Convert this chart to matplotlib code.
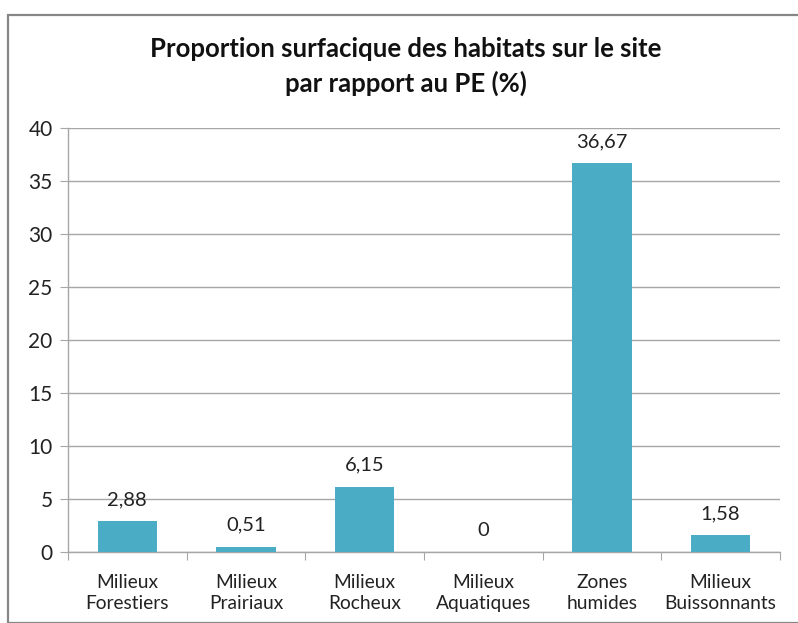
import matplotlib
matplotlib.use("Agg")
import matplotlib.pyplot as plt
from matplotlib.patches import Rectangle

categories = ["Milieux\nForestiers", "Milieux\nPrairiaux", "Milieux\nRocheux",
              "Milieux\nAquatiques", "Zones\nhumides", "Milieux\nBuissonnants"]
values = [2.88, 0.51, 6.15, 0, 36.67, 1.58]
value_labels = ["2,88", "0,51", "6,15", "0", "36,67", "1,58"]
yticks = [0, 5, 10, 15, 20, 25, 30, 35, 40]
title = "Proportion surfacique des habitats sur le site\npar rapport au PE (%)"

plt.rcParams["font.family"] = ["Lato", "DejaVu Sans"]

W, H = 798, 623
fig = plt.figure(figsize=(W / 100, H / 100), dpi=100)

# outer chart frame
fig.patches.append(Rectangle((7.5 / W, 0), 1.0, 1 - 14.5 / H, transform=fig.transFigure,
                             fill=False, edgecolor="#868686", linewidth=1.6))

left, right, top, bottom = 68, 780, 128, 552
ax = fig.add_axes([left / W, 1 - bottom / H, (right - left) / W, (bottom - top) / H])

x = list(range(len(categories)))
ax.bar(x, values, width=0.5, color="#4BACC6", zorder=3)
for xi, v, lab in zip(x, values, value_labels):
    ax.text(xi, v + 1.25, lab, ha="center", va="bottom", fontsize=14.5, color="#222222")

ax.set_xlim(-0.5, len(categories) - 0.5)
ax.set_ylim(0, 40)
ax.set_yticks(yticks)
ax.set_yticklabels([str(t) for t in yticks], fontsize=15, color="#222222")
ax.yaxis.grid(True, color="#a6a6a6", linewidth=1.0, zorder=0)
ax.tick_params(axis="y", length=6, color="#a6a6a6", pad=5)

ax.set_xticks([i + 0.5 for i in range(-1, len(categories))], minor=False)
ax.set_xticklabels([""] * (len(categories) + 1))
ax.tick_params(axis="x", length=6, color="#a6a6a6")
ax.set_xticks(x, minor=True)
ax.set_xticklabels(categories, minor=True, fontsize=13.8, color="#222222", linespacing=1.3)
ax.tick_params(axis="x", which="minor", length=0, pad=16)

for side in ["top", "right"]:
    ax.spines[side].set_visible(False)
for side in ["left", "bottom"]:
    ax.spines[side].set_color("#a6a6a6")
    ax.spines[side].set_linewidth(1.0)

fig.text(406 / W, 1 - 66.5 / H, title, ha="center", va="center", fontsize=18.5,
         fontweight="bold", color="#111111", linespacing=1.45)

fig.savefig("out.png", dpi=100)
